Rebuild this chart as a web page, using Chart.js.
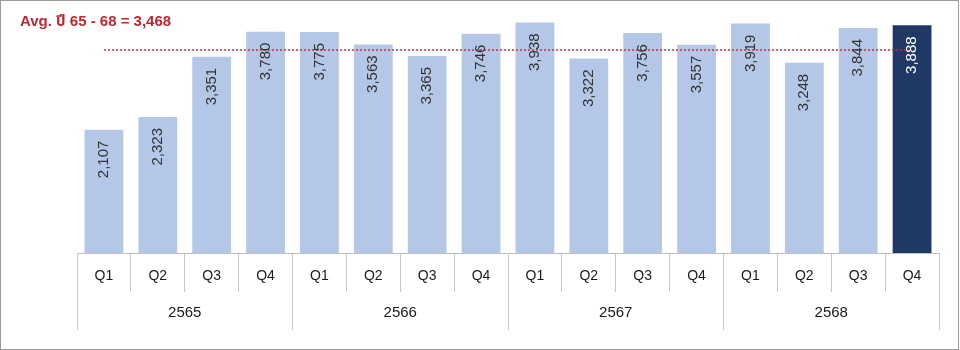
<!DOCTYPE html>
<html>
<head>
<meta charset="utf-8">
<script src="https://cdn.jsdelivr.net/npm/chart.js@4/dist/chart.umd.min.js"></script>
<style>
  html, body { margin: 0; padding: 0; background: #fff; }
  #wrap { position: relative; width: 960px; height: 350px; }
</style>
</head>
<body>
<div id="wrap"><canvas id="c" width="960" height="350"></canvas></div>
<script>
const quarters = ['Q1','Q2','Q3','Q4','Q1','Q2','Q3','Q4','Q1','Q2','Q3','Q4','Q1','Q2','Q3','Q4'];
const years = ['2565','2566','2567','2568'];
const values = [2107, 2323, 3351, 3780, 3775, 3563, 3365, 3746, 3938, 3322, 3756, 3557, 3919, 3248, 3844, 3888];
const avgValue = 3468;
const avgLabel = 'Avg. ปี 65 - 68 = 3,468';
const highlightIndex = 15;

const LIGHT = '#b4c7e7';
const DARK = '#1f3864';
const FONT = "'Liberation Sans', Arial, 'Noto Sans Thai', 'DejaVu Sans', sans-serif";

const frameAndTitle = {
  id: 'frameAndTitle',
  beforeDraw(chart) {
    const ctx = chart.ctx;
    ctx.save();
    ctx.fillStyle = '#ffffff';
    ctx.fillRect(0, 0, chart.width, chart.height);
    ctx.restore();
  },
  afterDraw(chart) {
    const ctx = chart.ctx;
    ctx.save();
    ctx.strokeStyle = '#9a9a9a';
    ctx.lineWidth = 1;
    ctx.strokeRect(0.5, 0.5, chart.width - 2, chart.height - 1);
    ctx.fillStyle = '#c0262d';
    ctx.font = 'bold 15px ' + FONT;
    ctx.textAlign = 'left';
    ctx.textBaseline = 'alphabetic';
    ctx.fillText(avgLabel, 20, 26);
    ctx.restore();
  }
};

const barLabels = {
  id: 'barLabels',
  afterDatasetsDraw(chart) {
    const meta = chart.getDatasetMeta(0);
    const ctx = chart.ctx;
    ctx.save();
    ctx.font = '15px ' + FONT;
    ctx.textAlign = 'right';
    ctx.textBaseline = 'middle';
    meta.data.forEach((bar, i) => {
      const txt = values[i].toLocaleString('en-US');
      ctx.save();
      ctx.translate(bar.x, bar.y + 11);
      ctx.rotate(-Math.PI / 2);
      ctx.fillStyle = i === highlightIndex ? '#ffffff' : '#333333';
      ctx.fillText(txt, 0, 0);
      ctx.restore();
    });
    ctx.restore();
  }
};

new Chart(document.getElementById('c'), {
  data: {
    labels: quarters,
    datasets: [
      {
        type: 'bar',
        data: values,
        backgroundColor: values.map((v, i) => i === highlightIndex ? DARK : LIGHT),
        barPercentage: 0.72,
        categoryPercentage: 1,
        order: 1,
        xAxisID: 'x',
        yAxisID: 'y'
      },
      {
        type: 'line',
        data: quarters.map(() => avgValue),
        borderColor: '#c8283c',
        borderWidth: 1.5,
        borderDash: [2, 2],
        pointRadius: 0,
        fill: false,
        order: 0,
        xAxisID: 'x',
        yAxisID: 'y'
      }
    ]
  },
  options: {
    responsive: false,
    animation: false,
    events: [],
    layout: { padding: { top: 3, left: 77, right: 21, bottom: 20 } },
    plugins: { legend: { display: false }, tooltip: { enabled: false }, title: { display: false } },
    scales: {
      y: { display: false, min: 0, max: 4270 },
      x: {
        type: 'category',
        position: 'bottom',
        offset: true,
        weight: 0,
        grid: { offset: true, drawOnChartArea: false, drawTicks: true, tickLength: 39, color: '#c8c8c8', lineWidth: 1 },
        border: { display: true, color: '#bfbfbf', width: 1 },
        ticks: { padding: -24, color: '#1a1a1a', font: { family: FONT, size: 14 }, maxRotation: 0, autoSkip: false },
        afterFit(s) { s.height = 39; }
      },
      x2: {
        type: 'category',
        labels: years,
        position: 'bottom',
        offset: true,
        weight: 1,
        grid: { offset: true, drawOnChartArea: false, drawTicks: true, tickLength: 38, color: '#c8c8c8', lineWidth: 1 },
        border: { display: false },
        ticks: { padding: -26, color: '#1a1a1a', font: { family: FONT, size: 15 }, maxRotation: 0, autoSkip: false },
        afterFit(s) { s.height = 38; }
      }
    }
  },
  plugins: [frameAndTitle, barLabels]
});
</script>
</body>
</html>
